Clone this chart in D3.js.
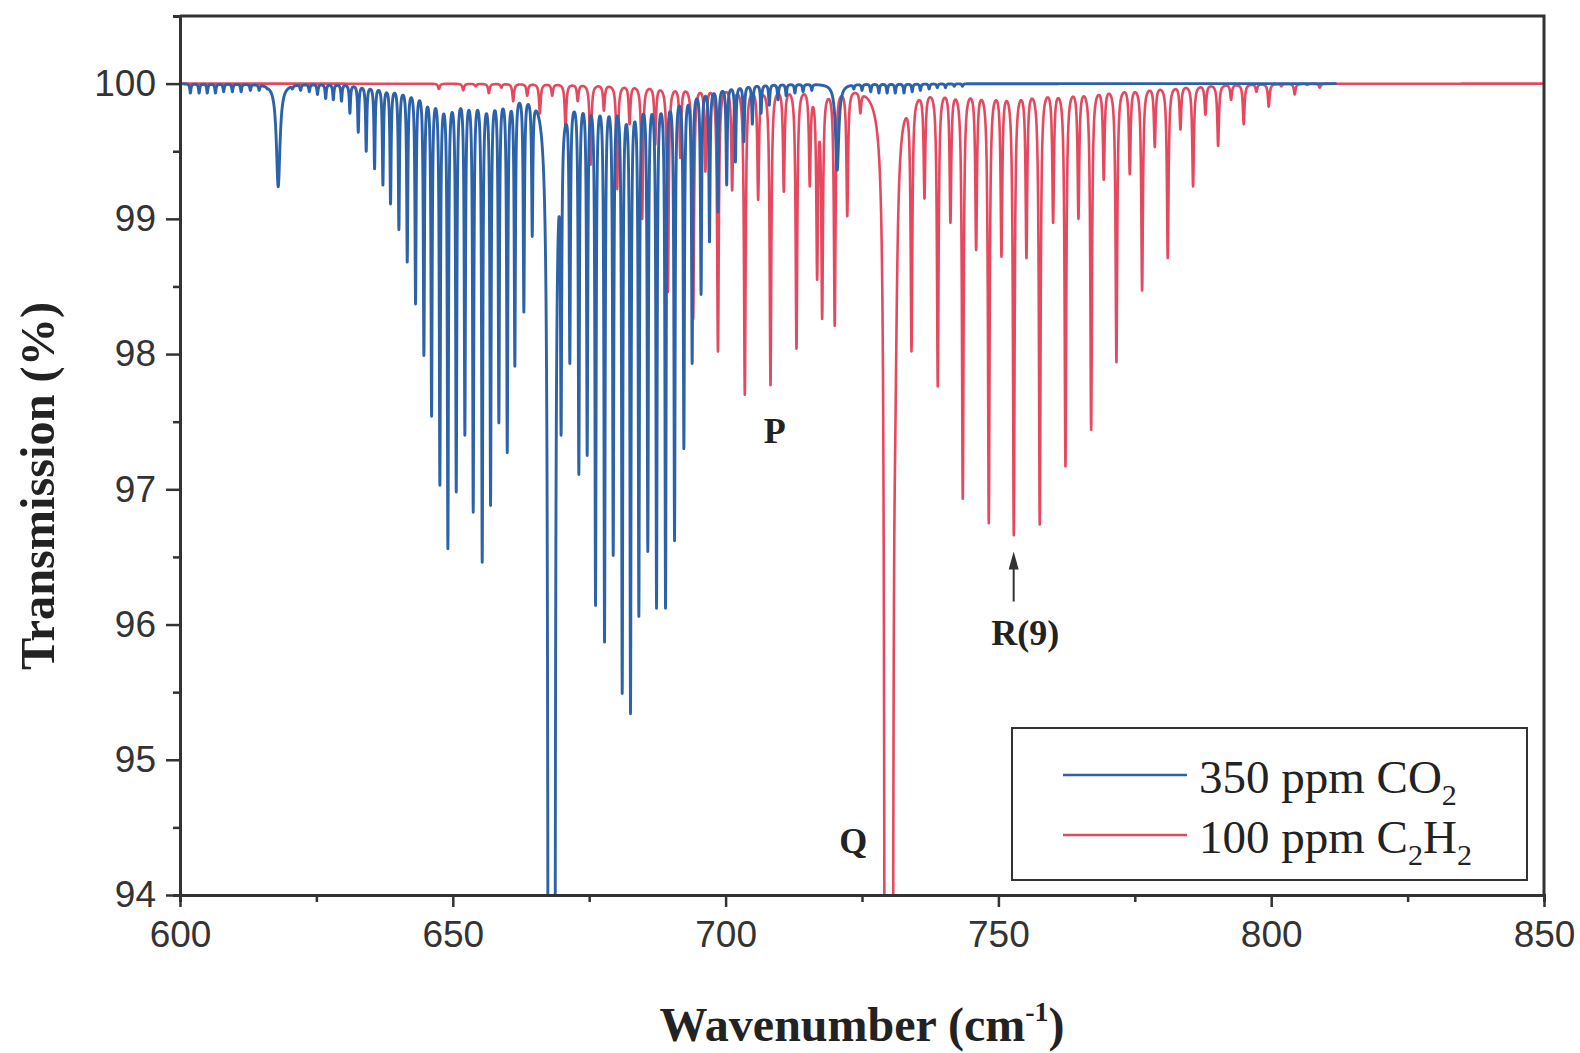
<!DOCTYPE html>
<html>
<head>
<meta charset="utf-8">
<script src="https://cdn.jsdelivr.net/npm/d3@7"></script>
<style>
  body { margin: 0; background: #fff; }
  svg { display: block; }
</style>
</head>
<body>
<script>
const co2Lines = [
  [601.9, 99.93], [603.5, 99.93], [605.0, 99.93], [606.5, 99.93], [608.0, 99.94],
  [609.6, 99.94], [611.2, 99.94], [612.9, 99.95], [614.5, 99.95], [616.0, 99.96],
  [620.6, 99.96], [622.1, 99.95], [623.7, 99.94], [625.2, 99.92], [626.7, 99.89],
  [628.1, 99.88], [629.6, 99.87], [631.14, 99.78], [632.67, 99.64], [634.13, 99.5],
  [635.66, 99.37], [637.19, 99.25], [638.59, 99.11], [640.12, 98.92], [641.65, 98.68],
  [643.17, 98.37], [644.7, 97.99], [646.11, 97.54], [647.63, 97.03], [649.1, 96.56],
  [650.63, 96.98], [652.21, 97.4], [653.74, 96.83], [655.39, 96.46], [656.92, 96.88],
  [658.44, 97.49], [659.98, 97.27], [661.37, 97.91], [663.02, 98.31], [664.56, 98.87],
  [669.85, 97.4], [671.45, 97.93], [673.1, 97.11], [674.63, 97.25], [676.16, 96.14],
  [677.81, 95.87], [679.4, 96.51], [681.05, 95.49], [682.57, 95.34], [684.1, 96.06],
  [685.74, 96.54], [687.34, 96.12], [688.99, 96.12], [690.64, 96.62], [692.35, 97.3],
  [693.87, 97.93], [695.5, 98.44], [697.05, 98.83], [698.6, 99.05], [700.2, 99.25],
  [701.8, 99.42], [703.35, 99.57], [704.9, 99.7], [706.5, 99.78], [708.0, 99.84],
  [709.6, 99.88], [711.1, 99.91], [712.7, 99.93], [714.2, 99.94], [715.8, 99.95],
  [723.5, 99.96], [725.0, 99.95], [726.6, 99.94], [728.1, 99.93], [729.6, 99.93],
  [731.1, 99.93], [732.7, 99.93], [734.2, 99.94], [735.7, 99.95], [737.3, 99.96],
  [738.8, 99.97], [740.3, 99.97], [741.9, 99.98], [743.4, 99.98]
];
// broad features: centre, depth below 100 (%), half width (cm-1)
const co2Bands = [
  [618.0, 0.76, 0.4],
  [667.65, 20, 0.12], [667.95, 20, 0.12], [668.25, 20, 0.12], [668.55, 20, 0.12],
  [720.45, 0.64, 0.35]
];

const c2h2Lines = [
  [647.45, 99.96], [651.91, 99.95], [654.2, 99.98], [656.61, 99.93], [658.9, 99.97],
  [661.07, 99.87], [663.64, 99.91], [665.96, 99.78], [668.22, 99.91], [670.66, 99.68],
  [672.9, 99.87], [675.24, 99.4], [677.7, 99.8], [680.13, 99.22], [682.4, 99.7],
  [684.71, 99.0], [687.1, 99.55], [689.42, 98.46], [691.7, 99.45], [694.06, 98.26],
  [696.3, 99.35], [698.6, 98.02], [701.2, 99.21], [703.52, 97.7], [705.97, 99.14],
  [708.23, 97.77], [710.67, 99.2], [712.99, 98.04], [715.43, 99.24], [716.78, 98.55],
  [717.7, 98.26], [720.0, 98.21], [722.3, 99.02], [724.7, 99.78],
  [734.07, 98.02], [736.45, 99.15], [738.89, 97.76], [741.21, 98.97], [743.47, 96.93],
  [745.92, 98.77], [748.24, 96.75], [750.56, 98.72], [752.82, 96.66], [755.14, 98.71],
  [757.58, 96.74], [760.03, 98.97], [762.29, 97.17], [764.67, 99.0], [767.0, 97.44],
  [769.31, 99.29], [771.63, 97.94], [774.08, 99.33], [776.34, 98.47], [778.66, 99.53],
  [781.04, 98.71], [783.36, 99.66], [785.68, 99.24], [787.94, 99.77], [790.27, 99.54],
  [792.65, 99.88], [794.96, 99.7], [797.29, 99.94], [799.55, 99.83], [801.87, 99.98],
  [804.31, 99.92], [806.6, 99.99], [808.9, 99.97]
];
const c2h2Bands = [
  [729.3, 12, 0.15], [729.6, 12, 0.15], [729.9, 12, 0.15], [730.2, 12, 0.15],
  [730.5, 12, 0.15], [731.1, 1.2, 0.4]
];

const co2Range = [600, 812];
const c2h2Range = [600, 850];

const xMajor = [600, 650, 700, 750, 800, 850];
const xMinor = [625, 675, 725, 775, 825];
const yMajor = [94, 95, 96, 97, 98, 99, 100];
const yMinor = [94.5, 95.5, 96.5, 97.5, 98.5, 99.5];

const legendItems = [
  { label: "350 ppm CO", sub: ["2"], color: "#2c62a9" },
  { label: "100 ppm C", sub: ["2", "H", "2"], color: "#e6485f" }
];

const notes = [
  { text: "P", wn: 709.0, t: 97.34 },
  { text: "Q", wn: 723.4, t: 94.31 },
  { text: "R(9)", wn: 754.9, t: 95.85 }
];
const arrowAt = { wn: 752.8, from: 96.17, to: 96.54 };

const W = 1580, H = 1053;
const plotL = 180, plotR = 1544, plotT = 16, plotB = 895;

const x = d3.scaleLinear().domain([600, 850]).range([plotL, plotR]);
const y = d3.scaleLinear().domain([94, 100.5]).range([plotB, plotT]);

const lor = (dx, g) => (g * g) / (dx * dx + g * g);

function strengths(lines, g, bands) {
  const d = lines.map((l) => 100 - l[1]);
  for (let it = 0; it < 40; it++) {
    lines.forEach((l, i) => {
      let s = 0;
      lines.forEach((m, j) => {
        if (j !== i) s += d[j] * lor(l[0] - m[0], g);
      });
      bands.forEach((b) => (s += b[1] * lor(l[0] - b[0], b[2])));
      d[i] = Math.max(0, 100 - l[1] - s);
    });
  }
  return d;
}

function spectrum(lines, g, bands, range) {
  const d = strengths(lines, g, bands);
  const xs = d3.range(range[0], range[1], 0.02).concat(lines.map((l) => l[0]));
  xs.sort((a, b) => a - b);
  return xs.map((wn) => {
    let a = 0;
    lines.forEach((l, i) => (a += d[i] * lor(wn - l[0], g)));
    bands.forEach((b) => (a += b[1] * lor(wn - b[0], b[2])));
    return [wn, 100 - a];
  });
}

const co2 = spectrum(co2Lines, 0.13, co2Bands, co2Range);
const c2h2 = spectrum(c2h2Lines, 0.18, c2h2Bands, c2h2Range);

const svg = d3.select("body").append("svg").attr("width", W).attr("height", H);

svg.append("clipPath").attr("id", "plot")
  .append("rect").attr("x", plotL).attr("y", plotT)
  .attr("width", plotR - plotL).attr("height", plotB - plotT);

const line = d3.line().x((d) => x(d[0])).y((d) => y(d[1]));

const curves = svg.append("g").attr("clip-path", "url(#plot)");
curves.append("path").datum(c2h2)
  .attr("fill", "none").attr("stroke", legendItems[1].color)
  .attr("stroke-width", 2.6).attr("stroke-linejoin", "round").attr("d", line);
curves.append("path").datum(co2)
  .attr("fill", "none").attr("stroke", legendItems[0].color)
  .attr("stroke-width", 2.9).attr("stroke-linejoin", "round").attr("d", line);

// frame
const axisColor = "#333";
svg.append("path")
  .attr("d", `M${plotL},${plotT}H${plotR}V${plotB}`)
  .attr("fill", "none").attr("stroke", axisColor).attr("stroke-width", 3);

// axes
function styleAxis(g) {
  g.select(".domain").attr("stroke", axisColor).attr("stroke-width", 3);
  g.selectAll(".tick line").attr("stroke", axisColor).attr("stroke-width", 2.5);
  g.selectAll(".tick text")
    .attr("fill", "#333")
    .attr("font-family", "'Liberation Sans', Arial, sans-serif")
    .attr("font-size", 37);
}

svg.append("g").attr("transform", `translate(0,${plotB})`)
  .call(d3.axisBottom(x).tickValues(xMinor).tickSize(7).tickFormat(""))
  .call(styleAxis);
svg.append("g").attr("transform", `translate(0,${plotB})`)
  .call(d3.axisBottom(x).tickValues(xMajor).tickSize(12).tickSizeOuter(0).tickPadding(14).tickFormat(d3.format("d")))
  .call(styleAxis);

svg.append("g").attr("transform", `translate(${plotL},0)`)
  .call(d3.axisLeft(y).tickValues(yMinor).tickSize(7).tickFormat(""))
  .call(styleAxis);
svg.append("g").attr("transform", `translate(${plotL},0)`)
  .call(d3.axisLeft(y).tickValues(yMajor).tickSize(14).tickSizeOuter(0).tickPadding(10).tickFormat(d3.format("d")))
  .call(styleAxis);

// axis titles
const serif = "'Liberation Serif', 'Times New Roman', serif";
svg.append("text")
  .attr("transform", `translate(54,486) rotate(-90)`)
  .attr("text-anchor", "middle")
  .attr("font-family", serif).attr("font-weight", "bold").attr("font-size", 48)
  .attr("textLength", 368).attr("lengthAdjust", "spacingAndGlyphs")
  .attr("fill", "#222")
  .text("Transmission (%)");

const xt = svg.append("text")
  .attr("x", (plotL + plotR) / 2).attr("y", 1041)
  .attr("text-anchor", "middle")
  .attr("font-family", serif).attr("font-weight", "bold").attr("font-size", 48)
  .attr("fill", "#222");
xt.append("tspan").text("Wavenumber (cm");
xt.append("tspan").attr("font-size", 28).attr("dy", -20).text("-1");
xt.append("tspan").attr("dy", 20).text(")");

// annotations
svg.selectAll("text.note").data(notes).join("text")
  .attr("class", "note")
  .attr("x", (d) => x(d.wn)).attr("y", (d) => y(d.t))
  .attr("text-anchor", "middle")
  .attr("font-family", serif).attr("font-weight", "bold").attr("font-size", 36)
  .attr("fill", "#222")
  .text((d) => d.text);

const ax = x(arrowAt.wn), ay0 = y(arrowAt.from), ay1 = y(arrowAt.to);
svg.append("line")
  .attr("x1", ax).attr("x2", ax).attr("y1", ay0).attr("y2", ay1 + 12)
  .attr("stroke", "#333").attr("stroke-width", 2);
svg.append("path")
  .attr("d", `M${ax},${ay1}L${ax - 5},${ay1 + 18}L${ax + 5},${ay1 + 18}Z`)
  .attr("fill", "#333");

// legend
const lg = svg.append("g");
lg.append("rect")
  .attr("x", 1012).attr("y", 728).attr("width", 515).attr("height", 152)
  .attr("fill", "#fff").attr("stroke", "#333").attr("stroke-width", 2);
legendItems.forEach((it, i) => {
  const yy = 775 + i * 60;
  lg.append("line")
    .attr("x1", 1063).attr("x2", 1187).attr("y1", yy).attr("y2", yy)
    .attr("stroke", it.color).attr("stroke-width", 2.6);
  const t = lg.append("text")
    .attr("x", 1199).attr("y", yy + 18)
    .attr("font-family", serif).attr("font-size", 47).attr("fill", "#222");
  t.append("tspan").text(it.label);
  it.sub.forEach((s) => {
    if (s === "H") {
      t.append("tspan").attr("dy", -12).attr("font-size", 47).text("H");
    } else {
      t.append("tspan").attr("dy", 12).attr("font-size", 30).text(s);
    }
  });
});
</script>
</body>
</html>
